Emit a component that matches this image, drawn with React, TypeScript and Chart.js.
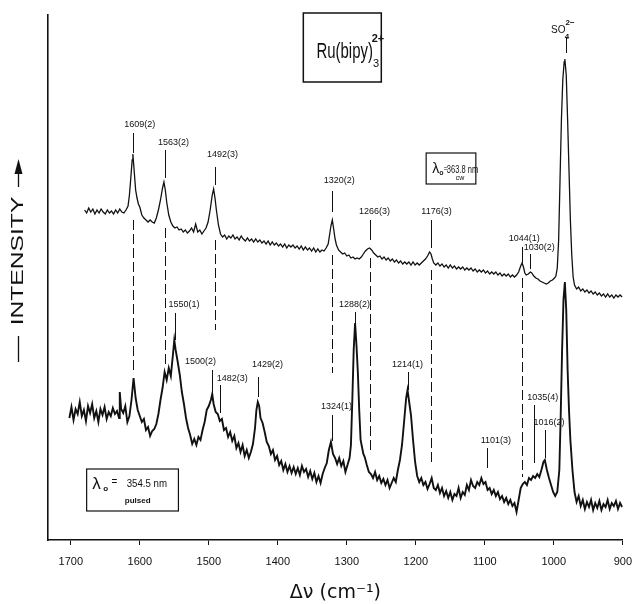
import React, { useEffect, useRef } from "react";
import { Chart, registerables } from "chart.js";

Chart.register(...registerables);

// ---------- data (Raman shift in cm^-1, intensity in arbitrary units) ----------
const tickValues = [1700, 1600, 1500, 1400, 1300, 1200, 1100, 1000, 900];

// λ0 = 363.8 nm, cw
const upperSpectrum: [number, number][] = [
  [1680, 330], [1677, 327], [1674, 332], [1671, 328], [1668, 331], [1665, 326], [1662, 330], [1659, 327],
  [1656, 331], [1653, 328], [1650, 326], [1647, 330], [1644, 327], [1641, 329], [1638, 326], [1635, 330],
  [1632, 327], [1629, 331], [1626, 328], [1623, 327], [1620, 330], [1617, 334], [1615, 345], [1613, 362],
  [1611, 380], [1610, 386], [1608, 368], [1606, 350], [1604, 342], [1602, 336], [1600, 333], [1597, 325],
  [1594, 322], [1591, 320], [1588, 318], [1585, 320], [1582, 318], [1579, 317], [1576, 322], [1573, 330],
  [1570, 340], [1567, 352], [1565, 358], [1563, 350], [1561, 338], [1558, 325], [1555, 318], [1552, 314],
  [1549, 312], [1546, 313], [1543, 310], [1540, 311], [1537, 308], [1534, 310], [1531, 307], [1528, 309],
  [1525, 312], [1522, 308], [1519, 316], [1516, 308], [1513, 310], [1510, 306], [1507, 309], [1504, 312],
  [1501, 318], [1498, 330], [1495, 345], [1493, 351], [1491, 342], [1489, 330], [1486, 315], [1483, 306],
  [1480, 303], [1477, 305], [1474, 301], [1471, 304], [1468, 302], [1465, 305], [1462, 301], [1459, 303],
  [1456, 300], [1453, 304], [1450, 301], [1447, 299], [1444, 302], [1441, 299], [1438, 301], [1435, 298],
  [1432, 301], [1429, 298], [1426, 300], [1423, 297], [1420, 299], [1417, 296], [1414, 299], [1411, 295],
  [1408, 298], [1405, 295], [1402, 297], [1399, 294], [1396, 296], [1393, 293], [1390, 296], [1387, 292],
  [1384, 295], [1381, 293], [1378, 295], [1375, 292], [1372, 294], [1369, 291], [1366, 294], [1363, 290],
  [1360, 293], [1357, 290], [1354, 292], [1351, 289], [1348, 292], [1345, 288], [1342, 291], [1339, 288],
  [1336, 290], [1333, 289], [1330, 292], [1327, 296], [1325, 305], [1323, 314], [1321, 320], [1319, 311],
  [1317, 301], [1315, 295], [1312, 290], [1309, 288], [1306, 286], [1303, 287], [1300, 284], [1297, 285],
  [1294, 282], [1291, 283], [1288, 281], [1285, 282], [1282, 281], [1279, 283], [1276, 286], [1273, 289],
  [1270, 291], [1267, 292], [1264, 290], [1261, 287], [1258, 285], [1255, 283], [1252, 284], [1249, 281],
  [1246, 283], [1243, 280], [1240, 282], [1237, 279], [1234, 281], [1231, 278], [1228, 280], [1225, 277],
  [1222, 279], [1219, 276], [1216, 278], [1213, 276], [1210, 278], [1207, 275], [1204, 278], [1201, 275],
  [1198, 277], [1195, 275], [1192, 277], [1189, 279], [1186, 281], [1183, 284], [1180, 288], [1178, 286],
  [1176, 281], [1174, 277], [1171, 275], [1168, 277], [1165, 274], [1162, 276], [1159, 273], [1156, 275],
  [1153, 272], [1150, 275], [1147, 272], [1144, 274], [1141, 271], [1138, 273], [1135, 271], [1132, 273],
  [1129, 270], [1126, 272], [1123, 270], [1120, 272], [1117, 269], [1114, 271], [1111, 268], [1108, 270],
  [1105, 268], [1102, 270], [1099, 267], [1096, 269], [1093, 266], [1090, 268], [1087, 266], [1084, 268],
  [1081, 265], [1078, 267], [1075, 264], [1072, 266], [1069, 264], [1066, 266], [1063, 263], [1060, 265],
  [1057, 263], [1054, 265], [1051, 268], [1048, 274], [1046, 277], [1044, 273], [1042, 267], [1040, 265],
  [1037, 266], [1034, 268], [1032, 267], [1029, 264], [1026, 262], [1023, 261], [1020, 259], [1017, 258],
  [1014, 257], [1011, 256], [1008, 257], [1005, 259], [1002, 260], [999, 262], [997, 264], [995, 272],
  [993, 300], [991, 360], [989, 420], [987, 460], [985, 478], [984, 481], [982, 465], [980, 420],
  [978, 370], [976, 320], [974, 285], [972, 263], [970, 255], [967, 251], [964, 253], [961, 249],
  [958, 251], [955, 248], [952, 250], [949, 247], [946, 249], [943, 246], [940, 248], [937, 245],
  [934, 247], [931, 244], [928, 246], [925, 243], [922, 246], [919, 243], [916, 245], [913, 242],
  [910, 245], [907, 243], [904, 245], [901, 243],
];

// λ0 = 354.5 nm, pulsed
const lowerSpectrum: [number, number][] = [
  [1702, 122], [1699, 133], [1696, 120], [1693, 131], [1690, 126], [1687, 138], [1684, 124], [1681, 130],
  [1678, 119], [1675, 134], [1672, 127], [1669, 136], [1666, 122], [1663, 129], [1660, 118], [1657, 131],
  [1654, 125], [1651, 133], [1648, 121], [1645, 128], [1642, 124], [1639, 132], [1636, 126], [1633, 129],
  [1630, 122], [1629, 148], [1627, 131], [1624, 127], [1621, 134], [1618, 118], [1615, 124], [1612, 140],
  [1609, 162], [1606, 142], [1603, 130], [1600, 124], [1597, 118], [1594, 121], [1591, 110], [1588, 113],
  [1585, 104], [1582, 109], [1579, 111], [1576, 116], [1573, 126], [1570, 140], [1567, 152], [1564, 168],
  [1561, 160], [1558, 172], [1555, 164], [1552, 185], [1550, 200], [1548, 190], [1545, 178], [1542, 165],
  [1539, 148], [1536, 136], [1533, 122], [1530, 112], [1527, 105], [1524, 96], [1521, 101], [1518, 95],
  [1515, 103], [1512, 100], [1509, 110], [1506, 118], [1503, 130], [1500, 134], [1497, 140], [1495, 146],
  [1493, 136], [1490, 128], [1487, 126], [1484, 119], [1481, 121], [1478, 110], [1475, 112], [1472, 103],
  [1469, 108], [1466, 99], [1463, 104], [1460, 92], [1457, 97], [1454, 88], [1451, 95], [1448, 84],
  [1445, 90], [1442, 82], [1439, 88], [1436, 96], [1433, 112], [1431, 130], [1429, 138], [1427, 134],
  [1425, 122], [1422, 117], [1419, 108], [1416, 98], [1413, 94], [1410, 86], [1407, 90], [1404, 80],
  [1401, 84], [1398, 75], [1395, 79], [1392, 70], [1389, 76], [1386, 68], [1383, 74], [1380, 67],
  [1377, 73], [1374, 66], [1371, 72], [1368, 65], [1365, 74], [1362, 68], [1359, 71], [1356, 63],
  [1353, 69], [1350, 61], [1347, 67], [1344, 58], [1341, 64], [1338, 57], [1335, 66], [1332, 72],
  [1329, 77], [1326, 90], [1323, 98], [1320, 86], [1317, 82], [1314, 76], [1311, 82], [1308, 74],
  [1305, 79], [1302, 68], [1299, 75], [1296, 82], [1294, 95], [1292, 140], [1290, 190], [1288, 217],
  [1286, 195], [1284, 168], [1282, 130], [1280, 100], [1278, 93], [1276, 86], [1274, 83], [1271, 75],
  [1268, 68], [1265, 66], [1262, 62], [1259, 68], [1256, 60], [1253, 64], [1250, 57], [1247, 61],
  [1244, 55], [1241, 60], [1238, 52], [1235, 57], [1232, 62], [1229, 58], [1226, 70], [1223, 80],
  [1220, 95], [1217, 118], [1214, 142], [1212, 150], [1210, 140], [1207, 125], [1204, 100], [1201, 78],
  [1198, 64], [1195, 58], [1192, 62], [1189, 55], [1186, 58], [1183, 51], [1180, 56], [1177, 62],
  [1174, 52], [1171, 50], [1168, 55], [1165, 47], [1162, 52], [1159, 44], [1156, 49], [1153, 42],
  [1150, 48], [1147, 40], [1144, 46], [1141, 44], [1138, 52], [1135, 42], [1132, 48], [1129, 45],
  [1126, 55], [1123, 50], [1120, 60], [1117, 54], [1114, 52], [1111, 58], [1108, 55], [1105, 62],
  [1102, 56], [1099, 58], [1096, 50], [1093, 52], [1090, 46], [1087, 50], [1084, 44], [1081, 48],
  [1078, 41], [1075, 44], [1072, 38], [1069, 42], [1066, 36], [1063, 40], [1060, 34], [1057, 37],
  [1054, 28], [1051, 40], [1048, 52], [1045, 56], [1042, 58], [1039, 55], [1036, 62], [1033, 60],
  [1030, 64], [1027, 62], [1024, 66], [1021, 63], [1018, 70], [1015, 78], [1013, 80], [1010, 70],
  [1007, 62], [1004, 55], [1001, 48], [998, 44], [995, 48], [992, 70], [990, 125], [988, 190],
  [986, 240], [984, 258], [982, 230], [980, 170], [978, 130], [976, 100], [973, 70], [970, 48],
  [967, 38], [964, 44], [961, 34], [958, 40], [955, 31], [952, 38], [949, 33], [946, 40],
  [943, 30], [940, 37], [937, 32], [934, 39], [931, 30], [928, 36], [925, 33], [922, 40],
  [919, 31], [916, 37], [913, 34], [910, 39], [907, 31], [904, 37], [901, 33],
];

// peak labels: text, label centre (cm^-1), label height, marker line (cm^-1), line top, line bottom
const peakLabels: [string, number, number, number, number, number][] = [
  ["1609(2)", 1600, 415, 1610, 407, 387],
  ["1563(2)", 1551, 397, 1564, 390, 362],
  ["1492(3)", 1480, 385, 1491.5, 373, 355],
  ["1320(2)", 1311, 359, 1321, 349, 328],
  ["1266(3)", 1260, 328, 1266, 320, 300],
  ["1176(3)", 1170, 328, 1178, 320, 292],
  ["1044(1)", 1043, 301, 1046, 293, 277],
  ["1030(2)", 1021, 292, 1034, 286, 271],
  ["1550(1)", 1536, 235, 1549, 227, 200],
  ["1500(2)", 1512, 178, 1496, 170, 146],
  ["1482(3)", 1466, 161, 1484, 155, 127],
  ["1429(2)", 1415, 175, 1428, 163, 143],
  ["1324(1)", 1315, 133, 1322, 125, 99],
  ["1288(2)", 1289, 235, 1288, 228, 217],
  ["1214(1)", 1212, 175, 1212, 168, 150],
  ["1101(3)", 1084, 99, 1097, 92, 72],
  ["1035(4)", 1016, 142, 1029, 135, 77],
  ["1016(2)", 1007, 117, 1013, 110, 82],
];

// dashed correlation lines between the two spectra: cm^-1, top, bottom
const connectors: [number, number, number][] = [
  [1610, 320, 168],
  [1564, 312, 175],
  [1491.5, 300, 210],
  [1321, 285, 167],
  [1266, 282, 87],
  [1178, 270, 78],
  [1046, 262, 63],
];

const SANS = '"Liberation Sans", Arial, sans-serif';

function drawText(
  ctx: CanvasRenderingContext2D,
  s: string,
  x: number,
  y: number,
  size: number,
  o: { sx?: number; align?: CanvasTextAlign; base?: CanvasTextBaseline; weight?: string; family?: string; rot?: number } = {}
) {
  ctx.save();
  ctx.font = `${o.weight || "normal"} ${size}px ${o.family || SANS}`;
  ctx.textAlign = o.align || "center";
  ctx.textBaseline = o.base || "middle";
  ctx.fillStyle = "#111";
  ctx.translate(x, y);
  if (o.rot) ctx.rotate(o.rot);
  ctx.scale(o.sx || 1, 1);
  ctx.fillText(s, 0, 0);
  ctx.restore();
}

const annotationPlugin = {
  id: "ramanAnnotations",
  afterDraw(chart: any) {
    const ctx: CanvasRenderingContext2D = chart.ctx;
    const xs = chart.scales.x;
    const ys = chart.scales.y;
    const px = (v: number) => xs.getPixelForValue(v);
    const py = (v: number) => ys.getPixelForValue(v);
    ctx.save();
    ctx.strokeStyle = "#111";
    ctx.fillStyle = "#111";

    // dashed connectors
    ctx.lineWidth = 1;
    ctx.setLineDash([10, 4]);
    for (const [nu, t, b] of connectors) {
      ctx.beginPath();
      ctx.moveTo(Math.round(px(nu)) + 0.5, py(t));
      ctx.lineTo(Math.round(px(nu)) + 0.5, py(b));
      ctx.stroke();
    }
    ctx.setLineDash([]);

    // peak labels
    for (const [text, tn, ti, ln, lt, lb] of peakLabels) {
      drawText(ctx, text, px(tn), py(ti), 9);
      ctx.beginPath();
      ctx.moveTo(Math.round(px(ln)) + 0.5, py(lt));
      ctx.lineTo(Math.round(px(ln)) + 0.5, py(lb));
      ctx.stroke();
    }

    // SO4 2- label
    drawText(ctx, "SO", px(1004), py(507), 10, { align: "left", base: "alphabetic" });
    drawText(ctx, "4", px(984), py(501), 8, { align: "left", base: "alphabetic", weight: "bold" });
    drawText(ctx, "2\u2212", px(983), py(515), 8, { align: "left", base: "alphabetic", weight: "bold" });
    ctx.beginPath();
    ctx.moveTo(Math.round(px(982)) + 0.5, py(503));
    ctx.lineTo(Math.round(px(982)) + 0.5, py(487));
    ctx.stroke();

    // Ru(bipy)3 2+ box
    ctx.lineWidth = 1.5;
    ctx.strokeRect(px(1363), py(527), px(1250) - px(1363), py(458) - py(527));
    drawText(ctx, "Ru(bipy)", px(1344), py(482), 22, { align: "left", base: "alphabetic", sx: 0.68 });
    drawText(ctx, "2+", px(1264), py(498), 11, { align: "left", base: "alphabetic", weight: "bold" });
    drawText(ctx, "3", px(1262), py(473), 11, { align: "left", base: "alphabetic" });

    // upper excitation box
    ctx.lineWidth = 1.2;
    ctx.strokeRect(px(1185), py(387), px(1113) - px(1185), py(356) - py(387));
    drawText(ctx, "\u03bb", px(1176), py(367), 14, { align: "left", base: "alphabetic" });
    drawText(ctx, "o", px(1166), py(365), 7, { align: "left", base: "alphabetic", weight: "bold" });
    drawText(ctx, "=", px(1160), py(369), 8, { align: "left", base: "alphabetic" });
    drawText(ctx, "363.8 nm", px(1155), py(367), 10, { align: "left", base: "alphabetic", sx: 0.75 });
    drawText(ctx, "cw", px(1136), py(360), 7, { align: "center", base: "alphabetic" });

    // lower excitation box
    ctx.strokeRect(px(1677), py(71), px(1544) - px(1677), py(29) - py(71));
    drawText(ctx, "\u03bb", px(1669), py(51), 17, { align: "left", base: "alphabetic" });
    drawText(ctx, "o", px(1653), py(49), 8, { align: "left", base: "alphabetic", weight: "bold" });
    drawText(ctx, "=", px(1641), py(55), 10, { align: "left", base: "alphabetic" });
    drawText(ctx, "354.5 nm", px(1619), py(53), 11, { align: "left", base: "alphabetic", sx: 0.88 });
    drawText(ctx, "pulsed", px(1603), py(37), 8, { align: "center", base: "alphabetic", weight: "bold" });

    // INTENSITY label with arrow
    const ix = chart.chartArea.left - 30;
    drawText(ctx, "INTENSITY", ix, py(279), 17, { rot: -Math.PI / 2, sx: 1.45 });
    ctx.lineWidth = 1.3;
    ctx.beginPath();
    ctx.moveTo(ix + 0.5, py(204));
    ctx.lineTo(ix + 0.5, py(178));
    ctx.moveTo(ix + 0.5, py(353));
    ctx.lineTo(ix + 0.5, py(368));
    ctx.stroke();
    ctx.beginPath();
    ctx.moveTo(ix + 0.5, py(381));
    ctx.lineTo(ix - 3.5, py(366));
    ctx.lineTo(ix + 4.5, py(366));
    ctx.closePath();
    ctx.fill();

    ctx.restore();
  },
};

export default function App() {
  const ref = useRef<HTMLCanvasElement | null>(null);

  useEffect(() => {
    document.body.style.margin = "0";
    const canvas = ref.current;
    if (!canvas) return;
    const chart = new Chart(canvas, {
      type: "line",
      data: {
        datasets: [
          {
            label: "363.8 nm cw",
            data: upperSpectrum.map(([x, y]) => ({ x, y })),
            borderColor: "#111",
            borderWidth: 1.3,
            pointRadius: 0,
            tension: 0,
          },
          {
            label: "354.5 nm pulsed",
            data: lowerSpectrum.map(([x, y]) => ({ x, y })),
            borderColor: "#111",
            borderWidth: 1.9,
            pointRadius: 0,
            tension: 0,
          },
        ],
      },
      options: {
        animation: false,
        responsive: false,
        events: [],
        layout: { padding: { left: 48, right: 18, top: 15, bottom: 0 } },
        plugins: { legend: { display: false }, tooltip: { enabled: false } },
        scales: {
          x: {
            type: "linear",
            reverse: true,
            min: 900,
            max: 1733,
            afterFit: (s: any) => {
              s.height = 64;
            },
            afterBuildTicks: (s: any) => {
              s.ticks = tickValues.map((v) => ({ value: v }));
            },
            ticks: {
              color: "#111",
              font: { family: SANS, size: 11 },
              padding: 10,
              maxRotation: 0,
              autoSkip: false,
              callback: (v: any) => String(v),
            },
            grid: { display: true, drawOnChartArea: false, drawTicks: true, tickLength: 5, color: "#111", lineWidth: 1 },
            border: { display: true, color: "#111", width: 1.6 },
            title: {
              display: true,
              text: "\u0394\u03bd (cm\u207b\u00b9)",
              color: "#111",
              font: { family: '"DejaVu Sans", sans-serif', size: 19 },
              padding: { top: 0, bottom: 0 },
            },
          },
          y: {
            type: "linear",
            min: 0,
            max: 525,
            afterFit: (s: any) => {
              s.width = 0;
            },
            ticks: { display: false },
            grid: { display: false, drawTicks: false },
            border: { display: true, color: "#111", width: 1.6 },
          },
        },
      },
      plugins: [annotationPlugin],
    });
    return () => chart.destroy();
  }, []);

  return <canvas ref={ref} width={642} height={604} style={{ display: "block", width: 642, height: 604 }} />;
}
